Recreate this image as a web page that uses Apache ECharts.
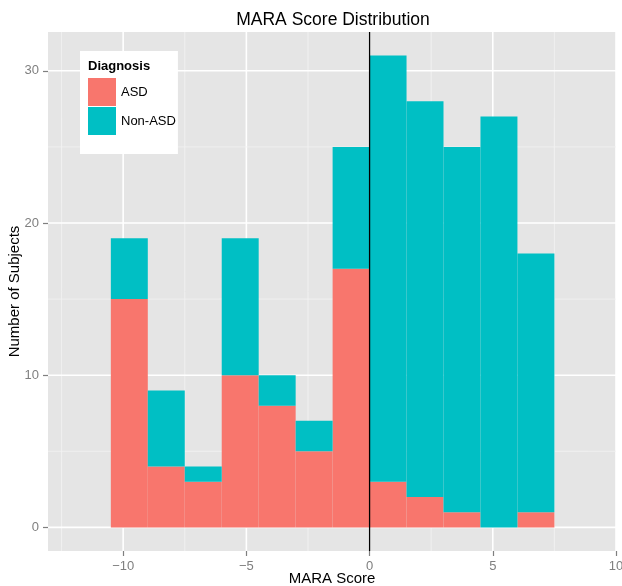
<!DOCTYPE html>
<html>
<head>
<meta charset="utf-8">
<script src="https://cdn.jsdelivr.net/npm/echarts@6/dist/echarts.min.js"></script>
<style>html,body{margin:0;padding:0;background:#fff}#c{width:622px;height:586px}</style>
</head>
<body>
<div id="c"></div>
<script>
// Histogram bins (width 1.5) of MARA score
var binStarts = [-10.5, -9, -7.5, -6, -4.5, -3, -1.5, 0, 1.5, 3, 4.5, 6];
var binWidth = 1.5;
var asdCounts = [15, 4, 3, 10, 8, 5, 17, 3, 2, 1, 0, 1];
var nonAsdCounts = [4, 5, 1, 9, 2, 2, 8, 28, 26, 24, 27, 17];
var xTicks = [-10, -5, 0, 5, 10];
var xMinor = [-12.5, -7.5, -2.5, 2.5, 7.5];
var yTicks = [0, 10, 20, 30];
var yMinor = [5, 15, 25];
var refLine = [0];

var asdData = binStarts.map(function (s, i) { return [s, s + binWidth, 0, asdCounts[i]]; });
var nonData = binStarts.map(function (s, i) { return [s, s + binWidth, asdCounts[i], asdCounts[i] + nonAsdCounts[i]]; });
var gridData = [];
xTicks.forEach(function (v) { gridData.push([v, 0, 1]); });
xMinor.forEach(function (v) { gridData.push([v, 0, 0]); });
yTicks.forEach(function (v) { gridData.push([v, 1, 1]); });
yMinor.forEach(function (v) { gridData.push([v, 1, 0]); });

function rectItem(color) {
  return function (params, api) {
    if (api.value(3) <= api.value(2)) return null;
    var p0 = api.coord([api.value(0), api.value(3)]);
    var p1 = api.coord([api.value(1), api.value(2)]);
    return { type: 'rect', shape: { x: p0[0], y: p0[1], width: p1[0] - p0[0], height: p1[1] - p0[1] },
      style: { fill: color } };
  };
}
function gridItem(params, api) {
  var cs = params.coordSys;
  var v = api.value(0), horiz = api.value(1), major = api.value(2);
  var style = { stroke: major ? '#ffffff' : '#f2f2f2', lineWidth: major ? 1.6 : 0.8 };
  if (horiz) {
    var y = api.coord([0, v])[1];
    return { type: 'line', shape: { x1: cs.x, y1: y, x2: cs.x + cs.width, y2: y }, style: style };
  }
  var x = api.coord([v, 0])[0];
  return { type: 'line', shape: { x1: x, y1: cs.y, x2: x, y2: cs.y + cs.height }, style: style };
}
function vItem(params, api) {
  var cs = params.coordSys;
  var x = api.coord([api.value(0), 0])[0];
  return { type: 'line', shape: { x1: x, y1: cs.y, x2: x, y2: cs.y + cs.height }, style: { stroke: '#000', lineWidth: 1.3 } };
}
function fmt(v) { return v < 0 ? '\u2212' + Math.abs(v) : String(v); }

var FONT = '"Liberation Sans", Arial, Helvetica, sans-serif';
var chart = echarts.init(document.getElementById('c'), null, { renderer: 'canvas' });
chart.setOption({
  animation: false,
  backgroundColor: '#ffffff',
  grid: { left: 48, top: 32, right: 6, bottom: 35, show: true, backgroundColor: '#e5e5e5', borderWidth: 0,
    containLabel: false, outerBoundsMode: 'none' },
  xAxis: {
    type: 'value', min: -13.05, max: 10,
    name: 'MARA Score', nameLocation: 'middle', nameGap: 20, nameMoveOverlap: false,
    nameTextStyle: { fontFamily: FONT, fontSize: 15, color: '#000', verticalAlign: 'top' },
    axisLine: { show: false, onZero: false },
    splitLine: { show: false },
    axisTick: { show: true, customValues: xTicks, length: 5, lineStyle: { color: '#7f7f7f', width: 1.2 } },
    axisLabel: { customValues: xTicks, formatter: fmt, margin: 9, fontFamily: FONT, fontSize: 13, color: '#7f7f7f' }
  },
  yAxis: {
    type: 'value', min: -1.55, max: 32.55,
    name: 'Number of Subjects', nameLocation: 'middle', nameGap: 26, nameMoveOverlap: false,
    nameTextStyle: { fontFamily: FONT, fontSize: 15, color: '#000' },
    axisLine: { show: false, onZero: false },
    splitLine: { show: false },
    axisTick: { show: true, customValues: yTicks, length: 5, lineStyle: { color: '#7f7f7f', width: 1.2 } },
    axisLabel: { customValues: yTicks, formatter: fmt, margin: 9, fontFamily: FONT, fontSize: 13, color: '#7f7f7f' }
  },
  legend: {
    left: 80, top: 51, orient: 'vertical', icon: 'rect',
    itemWidth: 28, itemHeight: 28, itemGap: 1,
    backgroundColor: '#ffffff', padding: [27, 2, 19, 8],
    data: ['ASD', 'Non-ASD'],
    textStyle: { fontFamily: FONT, fontSize: 13, color: '#000' }
  },
  graphic: [
    { type: 'text', left: 88, top: 60, z: 100, style: { text: 'Diagnosis', font: 'bold 13px ' + FONT, fill: '#000' } },
    { type: 'text', x: 333, y: 20, z: 100, style: { text: 'MARA Score Distribution', font: '17.5px ' + FONT, fill: '#000', textAlign: 'center', textVerticalAlign: 'middle' } }
  ],
  series: [
    { type: 'custom', name: 'grid', z: 1, silent: true, renderItem: gridItem, data: gridData, encode: { x: 0, y: 0 } },
    { type: 'custom', name: 'ASD', z: 2, renderItem: rectItem('#F8766D'), itemStyle: { color: '#F8766D' }, data: asdData, encode: { x: [0, 1], y: [2, 3] } },
    { type: 'custom', name: 'Non-ASD', z: 2, renderItem: rectItem('#00BFC4'), itemStyle: { color: '#00BFC4' }, data: nonData, encode: { x: [0, 1], y: [2, 3] } },
    { type: 'custom', name: 'zero', z: 3, silent: true, renderItem: vItem, data: refLine.map(function (v) { return [v]; }), encode: { x: 0 } }
  ]
});
</script>
</body>
</html>
